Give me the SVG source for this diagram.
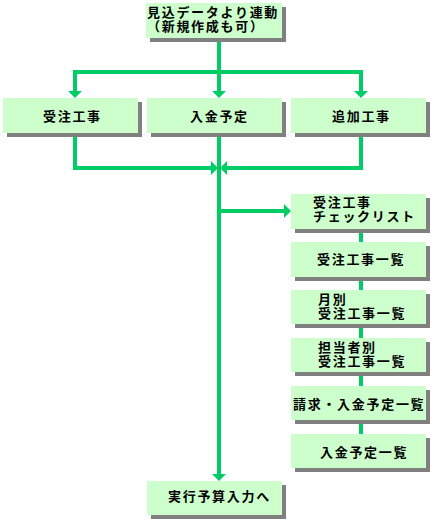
<svg xmlns="http://www.w3.org/2000/svg" width="434" height="524" viewBox="0 0 434 524">
<style>
.sh{fill:#808080}
.bx{fill:#ccffcc}
.t{font-family:"Noto Sans CJK JP","Noto Sans CJK SC",sans-serif;font-size:13px;font-weight:bold;letter-spacing:1.7px;fill:#000}
.ln{fill:none;stroke:#00cc66;stroke-width:4;stroke-linejoin:miter;stroke-linecap:butt}
</style>
<defs>
<marker id="ah" viewBox="0 0 7 14" markerWidth="7" markerHeight="14" refX="0" refY="7" orient="auto" markerUnits="userSpaceOnUse">
<path d="M0,0 L7,7 L0,14 Z" fill="#00cc66"/>
</marker>
</defs>
<rect width="434" height="524" fill="#fff"/>
<g id="connectors">
<path class="ln" d="M73,72 H363"/>
<path class="ln" d="M219,40 V91" marker-end="url(#ah)"/>
<path class="ln" d="M75,72 V91" marker-end="url(#ah)"/>
<path class="ln" d="M361,72 V91" marker-end="url(#ah)"/>
<path class="ln" d="M75,133 V168 H211" marker-end="url(#ah)"/>
<path class="ln" d="M361,133 V168 H227" marker-end="url(#ah)"/>
<path class="ln" d="M219,133 V474" marker-end="url(#ah)"/>
<path class="ln" d="M219,211 H284" marker-end="url(#ah)"/>
<path class="ln" d="M361,229 V434"/>
</g>
<g id="n-top"><rect class="sh" x="150" y="7" width="136" height="35"/><rect class="bx" x="146" y="3" width="136" height="35"/>
<text class="t" x="147" y="17">見込データより連動</text><text class="t" x="147" y="31">（新規作成も可）</text></g>
<g id="n-juchu"><rect class="sh" x="7" y="102" width="135" height="35"/><rect class="bx" x="3" y="98" width="135" height="35"/>
<text class="t" x="43" y="121">受注工事</text></g>
<g id="n-nyukin"><rect class="sh" x="151" y="102" width="135" height="35"/><rect class="bx" x="147" y="98" width="135" height="35"/>
<text class="t" x="190" y="121">入金予定</text></g>
<g id="n-tsuika"><rect class="sh" x="295" y="102" width="135" height="35"/><rect class="bx" x="291" y="98" width="135" height="35"/>
<text class="t" x="332" y="121">追加工事</text></g>
<g id="n-check"><rect class="sh" x="295" y="198" width="135" height="35"/><rect class="bx" x="291" y="194" width="135" height="35"/>
<text class="t" x="313" y="207">受注工事</text><text class="t" x="313" y="221">チェックリスト</text></g>
<g id="n-ichiran"><rect class="sh" x="295" y="246" width="135" height="35"/><rect class="bx" x="291" y="242" width="135" height="35"/>
<text class="t" x="317" y="264">受注工事一覧</text></g>
<g id="n-tsukibetsu"><rect class="sh" x="295" y="294" width="135" height="34"/><rect class="bx" x="291" y="290" width="135" height="34"/>
<text class="t" x="318" y="304">月別</text><text class="t" x="318" y="318">受注工事一覧</text></g>
<g id="n-tanto"><rect class="sh" x="295" y="342" width="135" height="34"/><rect class="bx" x="291" y="338" width="135" height="34"/>
<text class="t" x="318" y="352">担当者別</text><text class="t" x="318" y="366">受注工事一覧</text></g>
<g id="n-seikyu"><rect class="sh" x="295" y="390" width="135" height="34"/><rect class="bx" x="291" y="386" width="135" height="34"/>
<text class="t" x="293" y="409">請求・入金予定一覧</text></g>
<g id="n-nyukinichiran"><rect class="sh" x="295" y="438" width="135" height="34"/><rect class="bx" x="291" y="434" width="135" height="34"/>
<text class="t" x="320" y="457">入金予定一覧</text></g>
<g id="n-jikko"><rect class="sh" x="151" y="485" width="135" height="34"/><rect class="bx" x="147" y="481" width="135" height="34"/>
<text class="t" x="168" y="501">実行予算入力へ</text></g>
</svg>
